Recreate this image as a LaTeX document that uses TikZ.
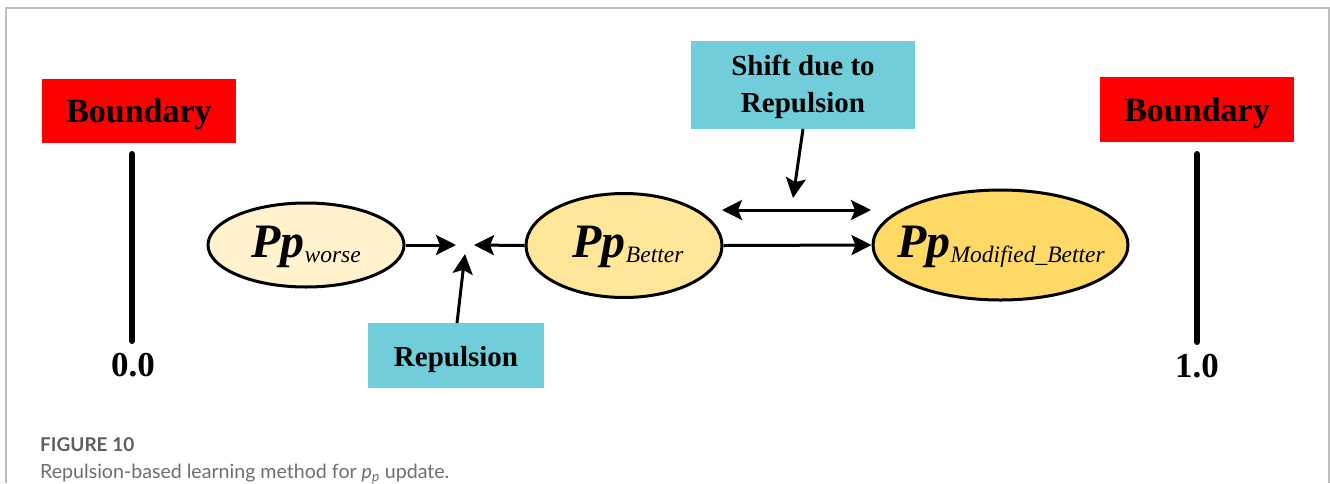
\documentclass[tikz,border=0pt]{standalone}
\usepackage{fontspec}
\setmainfont{Liberation Serif}
\newfontfamily\capfont{Lato}
\usetikzlibrary{arrows.meta,shapes.geometric}

\definecolor{framegray}{RGB}{190,190,190}
\definecolor{boundred}{RGB}{255,0,0}
\definecolor{tealbox}{RGB}{112,205,217}
\definecolor{creamA}{RGB}{255,242,204}
\definecolor{creamB}{RGB}{255,230,153}
\definecolor{creamC}{RGB}{255,217,102}
\definecolor{capdark}{RGB}{95,95,95}
\definecolor{caplight}{RGB}{110,110,110}

\tikzset{
  redbox/.style={fill=boundred, draw=none, inner sep=0pt},
  tealnode/.style={fill=tealbox, draw=none, inner sep=0pt},
  boxtext/.style={inner sep=0pt, align=center},
  ppell/.style={ellipse, draw=black, line width=3pt, inner sep=0pt},
  pptext/.style={inner sep=0pt},
  arr/.style={line width=3pt, -{Stealth[length=20pt,width=20pt,inset=4pt]}},
  dblarr/.style={line width=3pt, {Stealth[length=20pt,width=20pt,inset=4pt]}-{Stealth[length=20pt,width=20pt,inset=4pt]}},
  bline/.style={line width=6pt, line cap=round},
  ticklabel/.style={anchor=base, inner sep=0pt, font=\fontsize{35}{40}\selectfont\bfseries},
}

\newcommand{\ppsub}[1]{{\fontsize{48}{50}\selectfont\bfseries\itshape Pp}\raisebox{-5pt}{\fontsize{23.5}{26}\selectfont\itshape #1}}

\begin{document}
\begin{tikzpicture}[x=1pt,y=-1pt]
  \useasboundingbox (0,0) rectangle (1330,483);

  % outer frame
  \draw[framegray, line width=1.5pt] (6,483) -- (6,8) -- (1329,8) -- (1329,483);

  % boundaries
  \node[redbox, minimum width=194pt, minimum height=64pt] (bleft) at (139,111) {};
  \node[redbox, minimum width=194pt, minimum height=65pt] (bright) at (1197,109.5) {};
  \node[boxtext, anchor=base, font=\fontsize{34}{40}\selectfont\bfseries] (bleftTxt) at (139,122) {Boundary};
  \node[boxtext, anchor=base, font=\fontsize{34}{40}\selectfont\bfseries] (brightTxt) at (1197,121) {Boundary};
  \coordinate (l0top) at (132,154);
  \coordinate (l0bot) at (132,341);
  \coordinate (l1top) at (1197,154);
  \coordinate (l1bot) at (1197,342);
  \draw[bline] (l0top) -- (l0bot);
  \draw[bline] (l1top) -- (l1bot);
  \node[ticklabel] (zero) at (133,376) {0.0};
  \node[ticklabel] (one) at (1197,377) {1.0};

  % particles
  \node[ppell, fill=creamA, minimum width=196pt, minimum height=84pt] (worse) at (306,245) {};
  \node[ppell, fill=creamB, minimum width=196pt, minimum height=104pt] (better) at (624,245.5) {};
  \node[ppell, fill=creamC, minimum width=255pt, minimum height=110pt] (modb) at (1000.5,245) {};
  \node[pptext] (worsetxt) at (306,247) {\ppsub{worse}};
  \node[pptext] (bettertxt) at (628,247) {\ppsub{Better}};
  \node[pptext] (modbtxt) at (1001,247) {\ppsub{Modified\_Better}};

  % label boxes
  \node[tealnode, minimum width=176pt, minimum height=65pt] (rep) at (456,355.5) {};
  \node[boxtext, anchor=base, font=\fontsize{29}{37}\selectfont\bfseries] (repTxt) at (456,366) {Repulsion};
  \node[tealnode, minimum width=224pt, minimum height=88pt] (shift) at (803,85) {};
  \node[boxtext, font=\fontsize{29}{37}\selectfont\bfseries] (shiftTxt) at (803,87) {Shift due to\\Repulsion};

  % repulsion point
  \coordinate (tipW) at (456,245);
  \coordinate (tipB) at (474,245);
  \coordinate (tipR) at (465,254);
  \coordinate (repFoot) at (457,323);
  \draw[arr] (worse.east) -- (tipW);
  \draw[arr] (better.west) -- (tipB);
  \draw[arr] (repFoot) -- (tipR);

  % shift
  \coordinate (shFoot) at (803,129);
  \coordinate (shTip) at (793,198);
  \coordinate (dblL) at (722,210);
  \coordinate (dblR) at (871,210);
  \draw[arr] (shFoot) -- (shTip);
  \draw[dblarr] (dblL) -- (dblR);
  \draw[arr] (better.east) -- (modb.west);

  % caption
  \node[anchor=base west, inner sep=0pt, text=capdark,
        font=\capfont\fontsize{19}{22}\selectfont\bfseries] (figno) at (40,451) {FIGURE 10};
  \node[anchor=base west, inner sep=0pt, text=caplight,
        font=\capfont\fontsize{19.6}{22}\selectfont] (captxt) at (40,478)
        {Repulsion-based learning method for \textit{p}\textsubscript{\textit{p}} update.};
\end{tikzpicture}
\end{document}
